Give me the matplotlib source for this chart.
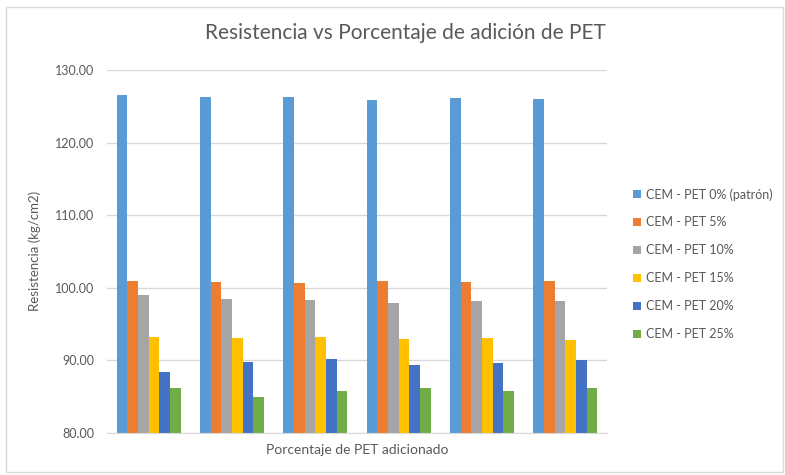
import numpy as np
import matplotlib
matplotlib.use("Agg")
import matplotlib.pyplot as plt
from matplotlib.patches import Rectangle

plt.rcParams['font.family'] = ['Lato', 'DejaVu Sans']

# data
groups = ["1", "2", "3", "4", "5", "6"]
series_names = [
    "CEM - PET 0% (patrón)",
    "CEM - PET 5%",
    "CEM - PET 10%",
    "CEM - PET 15%",
    "CEM - PET 20%",
    "CEM - PET 25%",
]
pet_0 = [126.6, 126.3, 126.3, 125.9, 126.2, 126.0]
pet_5 = [100.9, 100.8, 100.7, 100.9, 100.8, 100.9]
pet_10 = [99.0, 98.5, 98.3, 97.9, 98.2, 98.2]
pet_15 = [93.2, 93.0, 93.2, 92.9, 93.1, 92.8]
pet_20 = [88.4, 89.8, 90.1, 89.3, 89.6, 90.0]
pet_25 = [86.1, 84.9, 85.7, 86.1, 85.8, 86.1]
y_ticks = [80, 90, 100, 110, 120, 130]

colors = ["#5B9BD5", "#ED7D31", "#A5A5A5", "#FFC000", "#4472C4", "#70AD47"]
text_color = "#595959"
grid_color = "#D9D9D9"

fig = plt.figure(figsize=(7.85, 4.75), dpi=100)
ax = fig.add_axes([107 / 785, 1 - 432.7 / 475, 500 / 785, (432.7 - 70) / 475])

all_series = [pet_0, pet_5, pet_10, pet_15, pet_20, pet_25]
x = np.arange(len(groups))
bar_w = 0.128
for i, (vals, name) in enumerate(zip(all_series, series_names)):
    offset = (i - 2.5) * bar_w
    ax.bar(x + offset, np.array(vals) - 80, bottom=80, width=bar_w,
           color=colors[i], label=name, zorder=3)

ax.set_xlim(-0.5, len(groups) - 0.5)
ax.set_ylim(80, 130)
ax.set_yticks(y_ticks)
ax.set_yticklabels([f"{t:.2f}" for t in y_ticks], color=text_color, fontsize=9)
ax.set_xticks([])
ax.tick_params(axis='y', length=0, pad=9)
ax.grid(axis='y', color=grid_color, linewidth=1, zorder=0)
for side in ["top", "right", "left"]:
    ax.spines[side].set_visible(False)
ax.spines["bottom"].set_color(grid_color)
ax.spines["bottom"].set_zorder(4)

ax.set_ylabel("Resistencia (kg/cm2)", color=text_color, fontsize=9.5, labelpad=10)
ax.set_xlabel("Porcentaje de PET adicionado", color=text_color, fontsize=10, labelpad=8)
fig.text(405 / 785, 1 - 33 / 475, "Resistencia vs Porcentaje de adición de PET",
         ha="center", va="center", color=text_color, fontsize=15)

leg = fig.legend(loc="center left", bbox_to_anchor=(622 / 785, 1 - 264 / 475),
                 frameon=False, fontsize=9, labelcolor=text_color,
                 handlelength=0.6, handleheight=0.6, handletextpad=0.4,
                 labelspacing=1.27)

# chart area border
fig.patches.append(Rectangle((6 / 785, 3 / 475), 777 / 785, 465 / 475,
                             transform=fig.transFigure, fill=False,
                             edgecolor=grid_color, linewidth=1))

fig.savefig("out.png", dpi=100, facecolor="white")
